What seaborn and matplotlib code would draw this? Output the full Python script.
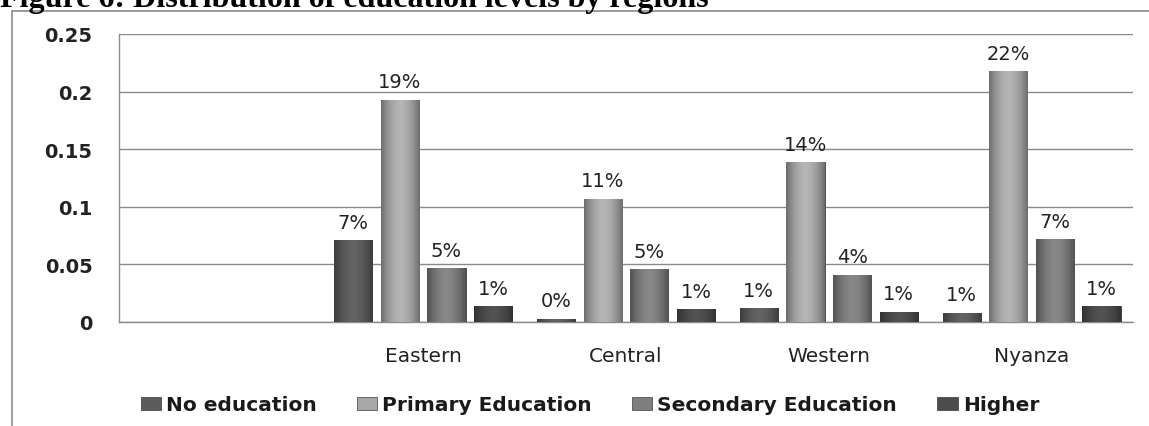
import numpy as np
import pandas as pd
import matplotlib
matplotlib.use("Agg")
import matplotlib.pyplot as plt
import seaborn as sns
from matplotlib.patches import Rectangle, Patch
from matplotlib.colors import to_rgb

# ---- data ----
regions = ["", "Eastern", "Central", "Western", "Nyanza"]
series = ["No education", "Primary Education", "Secondary Education", "Higher"]
no_education = [0.071, 0.003, 0.012, 0.008]
primary = [0.193, 0.107, 0.139, 0.218]
secondary = [0.047, 0.046, 0.041, 0.072]
higher = [0.014, 0.011, 0.009, 0.014]
yticks = [0, 0.05, 0.1, 0.15, 0.2, 0.25]
ytick_labels = ["0", "0.05", "0.1", "0.15", "0.2", "0.25"]
title = "Figure 6: Distribution of education levels by regions"

colors = ["#5c5c5c", "#a8a8a8", "#7e7e7e", "#4c4c4c"]

data_regions = regions[1:]
rows = []
for s, vals in zip(series, [no_education, primary, secondary, higher]):
    for r, v in zip(data_regions, vals):
        rows.append({"region": r, "series": s, "value": v})
df = pd.DataFrame(rows)

sns.set_theme(style="white")
plt.rcParams["font.family"] = ["DejaVu Sans"]

fig = plt.figure(figsize=(11.49, 4.27), dpi=100)
ax = fig.add_axes([119 / 1149, 1 - 323 / 427, (1133 - 119) / 1149, (323 - 35) / 427])

sns.barplot(data=df, x="region", y="value", hue="series", order=regions,
            hue_order=series, palette=colors, width=0.92, gap=0.18,
            ax=ax, legend=False, errorbar=None, saturation=1,
            edgecolor="#3a3a3a", linewidth=0.6, zorder=3)

# gradient shading on bars
for patch in list(ax.patches):
    bb = patch.get_bbox()
    if bb.height <= 0:
        continue
    base = np.array(to_rgb(patch.get_facecolor()))
    xs = np.linspace(-1, 1, 64)
    shade = 1.0 - 0.35 * xs ** 2 + 0.08 * (1 - np.abs(xs))
    img = np.clip(base[None, None, :] * shade[None, :, None], 0, 1)
    img = np.repeat(img, 2, axis=0)
    im = ax.imshow(img, extent=[bb.x0, bb.x1, bb.y0, bb.y1], aspect="auto",
                   zorder=3.5, interpolation="bilinear")
    im.set_clip_path(patch)
ax.set_aspect("auto")

# data labels
for cont in ax.containers:
    labels = [f"{round(b.get_height() * 100):.0f}%" if b.get_height() > 0 else "" for b in cont]
    ax.bar_label(cont, labels=labels, padding=6, fontsize=14, color="#222222", zorder=5)

ax.set_xlim(-0.5, 4.5)
ax.set_ylim(0, 0.25)
ax.set_yticks(yticks)
ax.set_yticklabels(ytick_labels, fontsize=14, fontweight="bold", color="#222222")
ax.tick_params(axis="y", length=0, pad=19)
ax.tick_params(axis="x", length=0, pad=17, labelsize=14.5, labelcolor="#222222")
ax.set_xlabel("")
ax.set_ylabel("")
ax.yaxis.grid(True, color="#8a8a8a", linewidth=1.0, zorder=0)
ax.set_axisbelow(True)
for side in ["top", "right"]:
    ax.spines[side].set_visible(False)
ax.spines["left"].set_color("#8a8a8a")
ax.spines["bottom"].set_color("#8a8a8a")
ax.spines["left"].set_linewidth(1.0)
ax.spines["bottom"].set_linewidth(1.0)

# legend
handles = [Patch(facecolor=c, edgecolor="#3a3a3a", linewidth=0.5) for c in colors]
leg = fig.legend(handles, series, loc="center left", bbox_to_anchor=(141 / 1149, 1 - 406 / 427),
                 ncol=4, frameon=False, handlelength=1.0, handleheight=0.6,
                 handletextpad=0.25, columnspacing=2.0, borderpad=0, borderaxespad=0,
                 prop={"family": "DejaVu Sans", "size": 14.5, "weight": "semibold"})
for t in leg.get_texts():
    t.set_color("#1a1a1a")

# outer border
fig.patches.append(Rectangle((12 / 1149, -0.05), 1.2, 1 - 12 / 427 + 0.05,
                             transform=fig.transFigure, fill=False,
                             edgecolor="#8a8a8a", linewidth=1.2))

# title (cut off at top, as in the source image)
fig.text(0.0, 1 - 7 / 427, title, fontsize=23, fontweight="bold",
         family="Liberation Serif", va="baseline", ha="left", color="black")

fig.savefig("out.png", dpi=100)
